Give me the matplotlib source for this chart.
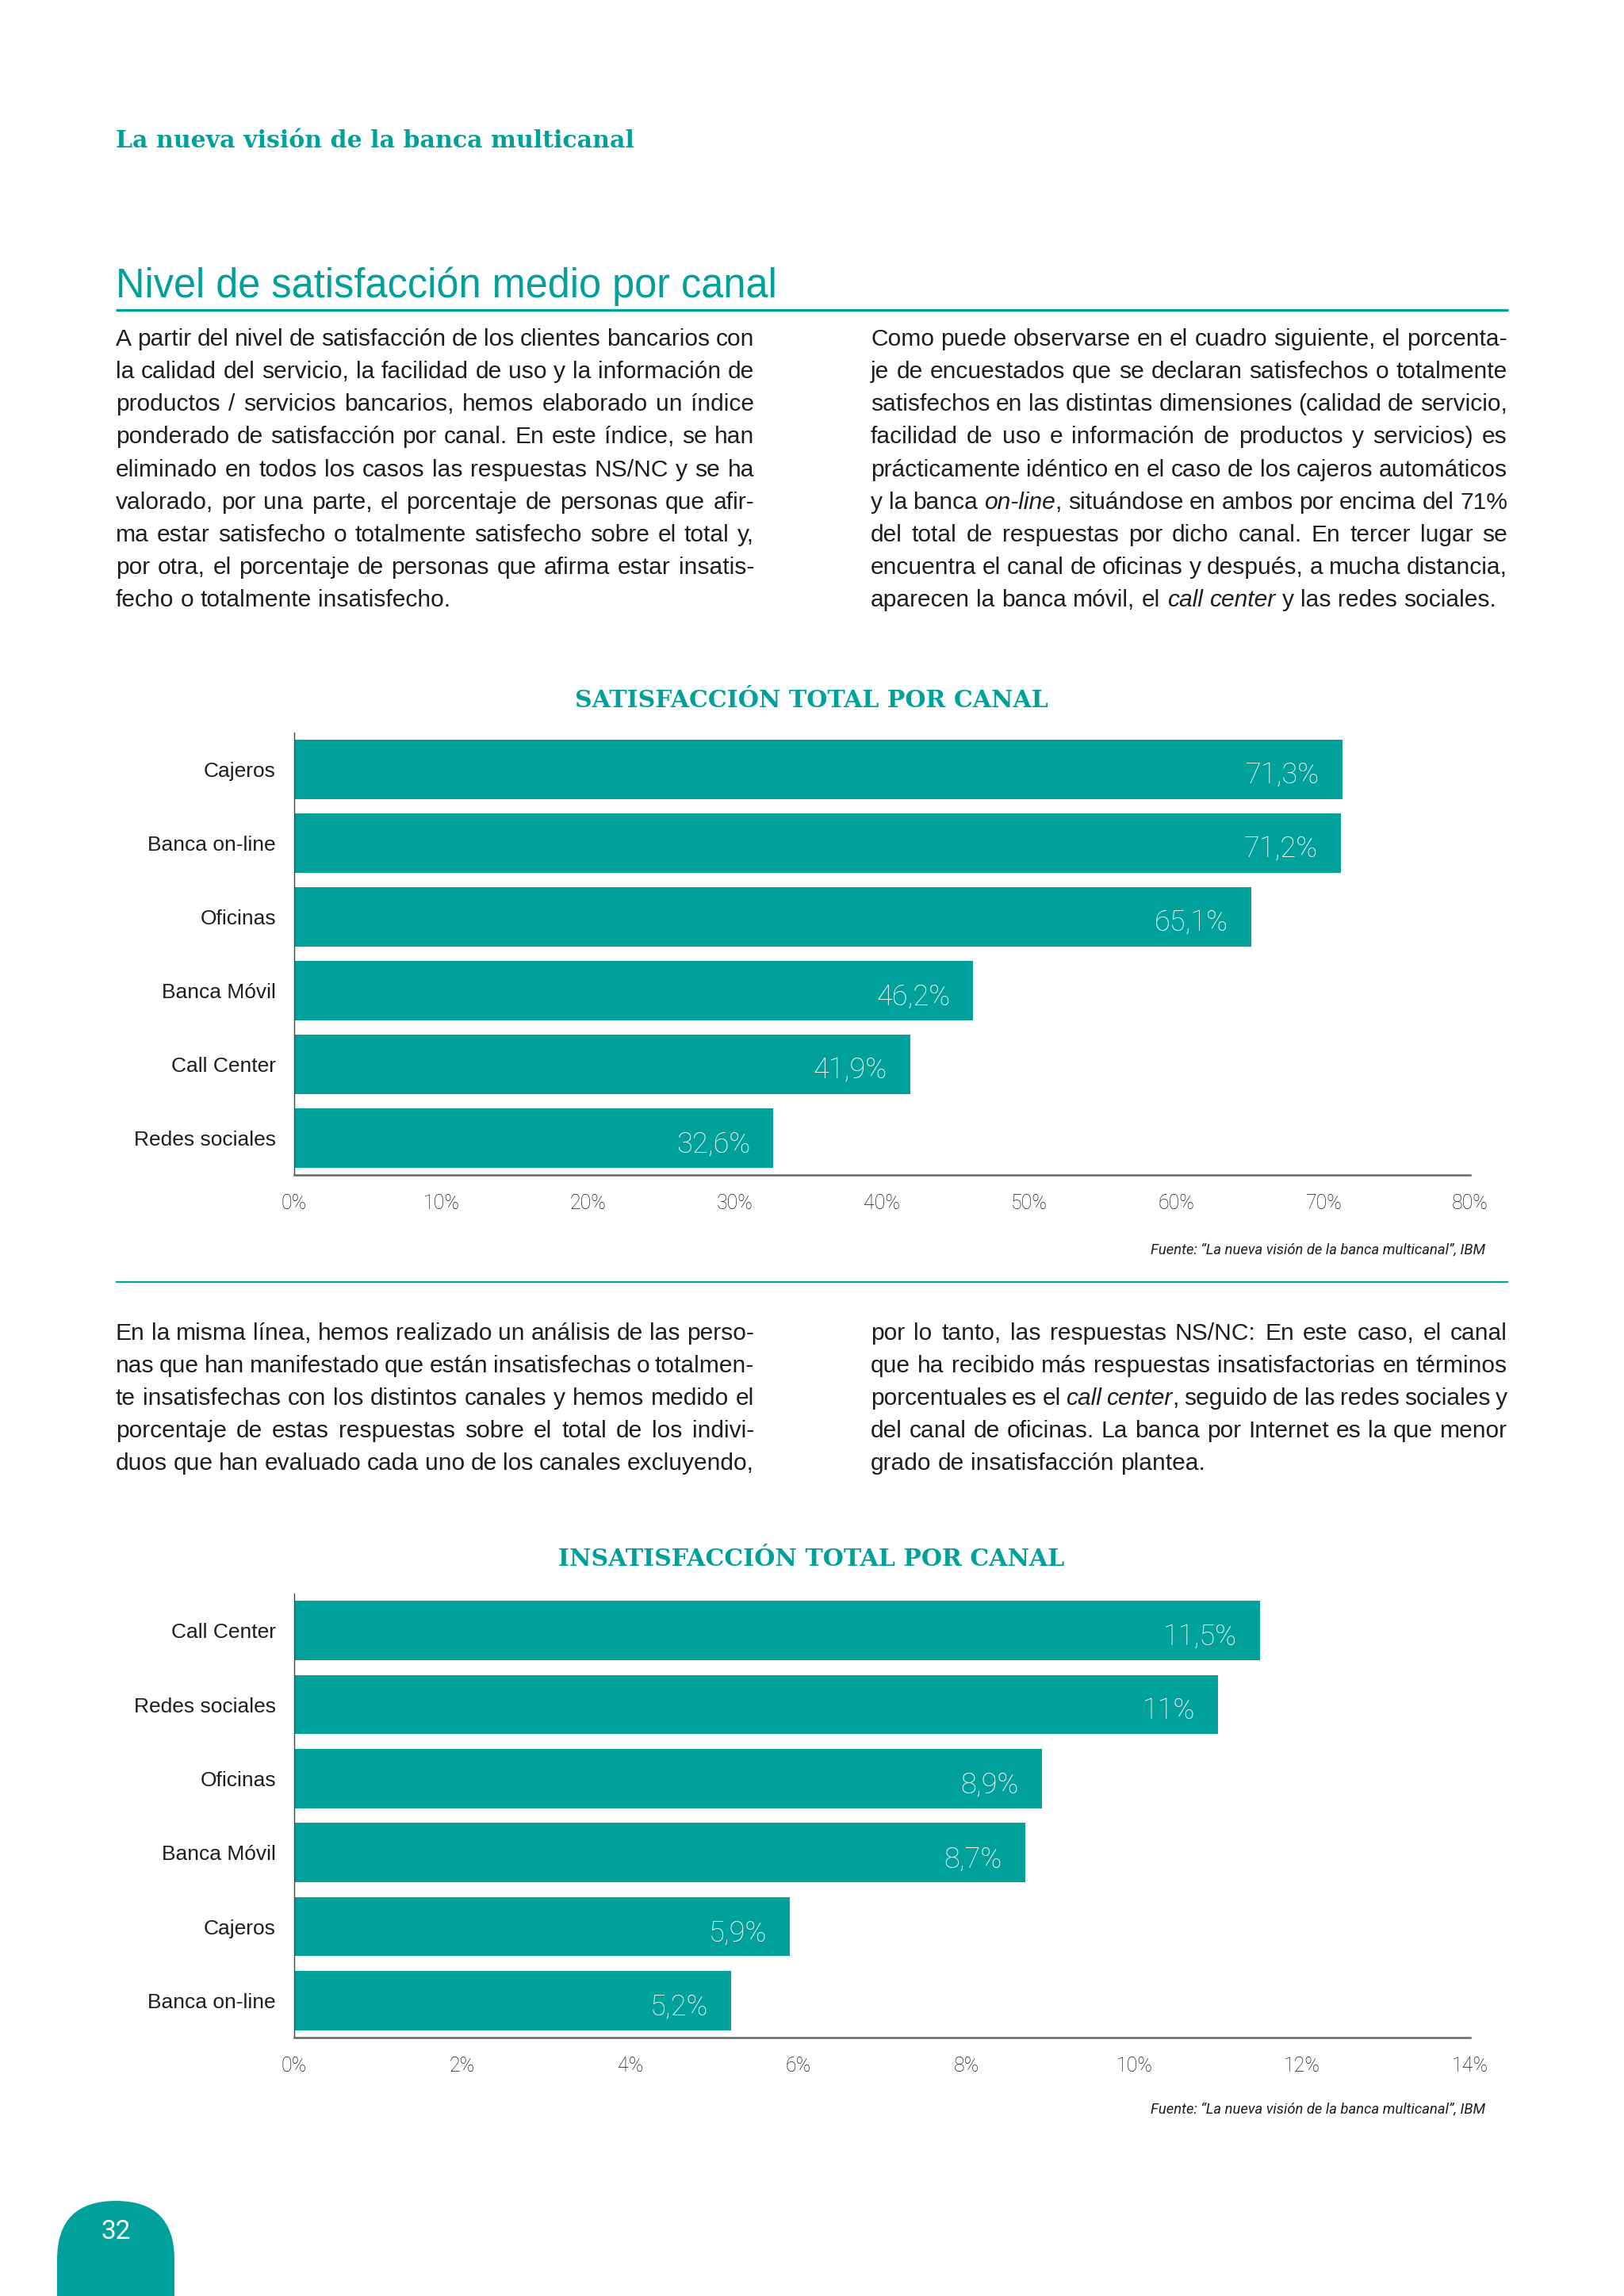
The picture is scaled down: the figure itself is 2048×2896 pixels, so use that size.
import matplotlib
matplotlib.use("Agg")
import matplotlib.pyplot as plt
from matplotlib.patches import FancyBboxPatch
from matplotlib.font_manager import FontProperties

TEAL = "#00A19A"
INK = "#1e1e1e"
SANS = ["Liberation Sans", "DejaVu Sans"]
LIGHT = ["Roboto", "Liberation Sans", "DejaVu Sans"]
SLAB = ["DejaVu Serif"]

W, H, DPI = 2048, 2896, 200

header = "La nueva visión de la banca multicanal"
section_title = "Nivel de satisfacción medio por canal"
sat_title = "SATISFACCIÓN TOTAL POR CANAL"
insat_title = "INSATISFACCIÓN TOTAL POR CANAL"
source = "Fuente: “La nueva visión de la banca multicanal”, IBM"
page_number = "32"

sat_channels = ["Cajeros", "Banca on-line", "Oficinas", "Banca Móvil", "Call Center", "Redes sociales"]
sat_values = [71.3, 71.2, 65.1, 46.2, 41.9, 32.6]
sat_ticks = [0, 10, 20, 30, 40, 50, 60, 70, 80]

insat_channels = ["Call Center", "Redes sociales", "Oficinas", "Banca Móvil", "Cajeros", "Banca on-line"]
insat_values = [11.5, 11.0, 8.9, 8.7, 5.9, 5.2]
insat_ticks = [0, 2, 4, 6, 8, 10, 12, 14]

# lines as set on the page, *...* marks italics
intro_left = [
    "A partir del nivel de satisfacción de los clientes bancarios con",
    "la calidad del servicio, la facilidad de uso y la información de",
    "productos / servicios bancarios, hemos elaborado un índice",
    "ponderado de satisfacción por canal. En este índice, se han",
    "eliminado en todos los casos las respuestas NS/NC y se ha",
    "valorado, por una parte, el porcentaje de personas que afir-",
    "ma estar satisfecho o totalmente satisfecho sobre el total y,",
    "por otra, el porcentaje de personas que afirma estar insatis-",
    "fecho o totalmente insatisfecho.",
]
intro_right = [
    "Como puede observarse en el cuadro siguiente, el porcenta-",
    "je de encuestados que se declaran satisfechos o totalmente",
    "satisfechos en las distintas dimensiones (calidad de servicio,",
    "facilidad de uso e información de productos y servicios) es",
    "prácticamente idéntico en el caso de los cajeros automáticos",
    "y la banca *on-line*, situándose en ambos por encima del 71%",
    "del total de respuestas por dicho canal. En tercer lugar se",
    "encuentra el canal de oficinas y después, a mucha distancia,",
    "aparecen la banca móvil, el *call center* y las redes sociales.",
]
second_left = [
    "En la misma línea, hemos realizado un análisis de las perso-",
    "nas que han manifestado que están insatisfechas o totalmen-",
    "te insatisfechas con los distintos canales y hemos medido el",
    "porcentaje de estas respuestas sobre el total de los indivi-",
    "duos que han evaluado cada uno de los canales excluyendo,",
]
second_right = [
    "por lo tanto, las respuestas NS/NC: En este caso, el canal",
    "que ha recibido más respuestas insatisfactorias en términos",
    "porcentuales es el *call center*, seguido de las redes sociales y",
    "del canal de oficinas. La banca por Internet es la que menor",
    "grado de insatisfacción plantea.",
]

BODY_FS = 10.8

fig = plt.figure(figsize=(W / DPI, H / DPI), dpi=DPI)
fig.patch.set_facecolor("white")

# page layer in pixel coordinates
page = fig.add_axes([0, 0, 1, 1])
page.set_xlim(0, W)
page.set_ylim(H, 0)
page.axis("off")
page.patch.set_alpha(0)

renderer = fig.canvas.get_renderer()


def split_runs(line):
    words = []
    italic = False
    for tok in line.split(" "):
        runs = []
        for k, part in enumerate(tok.split("*")):
            if k > 0:
                italic = not italic
            if part:
                runs.append((part, italic))
        words.append(runs)
    return words


def text_width(s, italic):
    fp = FontProperties(family=SANS, size=BODY_FS, style="italic" if italic else "normal")
    w, _, _ = renderer.get_text_width_height_descent(s, fp, ismath=False)
    return w


def paragraph(lines, x0, x1, y0, step, justify_last=False):
    space = text_width("a b", False) - text_width("ab", False)
    for n, line in enumerate(lines):
        words = split_runs(line)
        widths = [[text_width(t, it) for t, it in w] for w in words]
        total = sum(sum(ws) for ws in widths)
        last = n == len(lines) - 1 and not justify_last
        gap = space if last else max((x1 - x0 - total) / (len(words) - 1), space * 0.5)
        x = x0
        y = y0 + n * step
        for w, ws in zip(words, widths):
            for (t, it), wd in zip(w, ws):
                page.text(x, y, t, fontsize=BODY_FS, family=SANS, color=INK,
                          style="italic" if it else "normal", va="baseline", ha="left")
                x += wd
            x += gap


# header and section title
page.text(146, 186, header, fontsize=10.8, family=SLAB, fontweight="bold", color=TEAL, va="baseline")
page.text(146, 375, section_title, fontsize=18.2, family=SANS, color=TEAL, va="baseline")
page.plot([146, 1902], [391, 391], color=TEAL, lw=1.2, solid_capstyle="butt")

paragraph(intro_left, 146, 951, 436, 41.15)
paragraph(intro_right, 1098, 1901, 436, 41.15)

page.plot([146, 1902], [1617, 1617], color=TEAL, lw=0.8, solid_capstyle="butt")

paragraph(second_left, 146, 951, 1690, 40.9, justify_last=True)
paragraph(second_right, 1098, 1901, 1690, 40.9)

# page number tab
tab = FancyBboxPatch((72, 2776), 148, 300, boxstyle="round,pad=0,rounding_size=74",
                     facecolor=TEAL, edgecolor="none")
page.add_patch(tab)
page.text(146, 2815, page_number, fontsize=12, family=LIGHT,
          color="white", ha="center", va="center")


def bar_chart(top, bottom, channels, values, ticks, title, title_y, source_y):
    left, right = 371, 1854
    ax = fig.add_axes([left / W, 1 - bottom / H, (right - left) / W, (bottom - top) / H])
    ax.patch.set_alpha(0)
    pos = list(range(len(channels)))
    ax.barh(pos, values, height=0.8, color=TEAL)
    ax.set_ylim(len(channels) - 0.5, -0.5)
    ax.set_xlim(ticks[0], ticks[-1])
    ax.set_yticks(pos, channels)
    ax.set_xticks(ticks, [f"{t}%" for t in ticks])
    ax.tick_params(axis="y", length=0, pad=8.3, labelsize=9.5, labelcolor=INK)
    ax.tick_params(axis="x", length=0, pad=8.5, labelsize=9, labelcolor="#111111")
    for lab in ax.get_yticklabels():
        lab.set_family(SANS)
    for lab in ax.get_xticklabels():
        lab.set_family(LIGHT)
        lab.set_fontweight("light")
    for s in ("top", "right"):
        ax.spines[s].set_visible(False)
    ax.spines["left"].set_color("#444444")
    ax.spines["left"].set_linewidth(0.5)
    ax.spines["bottom"].set_color("#666666")
    ax.spines["bottom"].set_linewidth(0.9)
    for i, v in enumerate(values):
        ax.annotate(f"{v:g}".replace(".", ",") + "%", (v, i), xytext=(-10.5, -3),
                    textcoords="offset points", ha="right", va="center",
                    color="white", fontsize=13, family=LIGHT, fontweight="light")
    page.text(1023, title_y, title, fontsize=10.8, family=SLAB, fontweight="bold",
              color=TEAL, ha="center", va="baseline")
    page.text(1873, source_y, source, fontsize=6.6, family=LIGHT, style="italic",
              color=INK, ha="right", va="center")
    return ax


bar_chart(924, 1482, sat_channels, sat_values, sat_ticks, sat_title, 892, 1576)
bar_chart(2010, 2570, insat_channels, insat_values, insat_ticks, insat_title, 1975, 2660)

fig.savefig("out.png", dpi=DPI, facecolor="white")
